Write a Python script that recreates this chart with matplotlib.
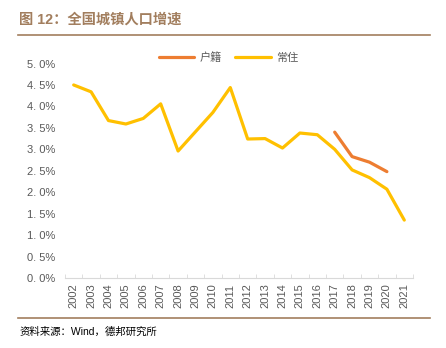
import matplotlib.pyplot as plt
from matplotlib.ticker import FixedLocator, FuncFormatter

plt.rcParams['font.family'] = ['Liberation Sans', 'Noto Sans CJK SC', 'DejaVu Sans']

# === Data: urban population growth, % ===
years = [str(y) for y in range(2002, 2022)]
resident = [4.50, 4.34, 3.67, 3.59, 3.72, 4.06, 2.96, 3.41, 3.86, 4.44,
            3.24, 3.25, 3.03, 3.38, 3.34, 3.00, 2.52, 2.34, 2.07, 1.35]
hukou_years = ['2017', '2018', '2019', '2020']
hukou = [3.40, 2.83, 2.70, 2.48]

yticks = [0.0, 0.5, 1.0, 1.5, 2.0, 2.5, 3.0, 3.5, 4.0, 4.5, 5.0]

brown = '#a27e5e'
orange = '#ed7d31'
yellow = '#ffc000'
grey = '#595959'

fig = plt.figure(figsize=(4.46, 3.48), dpi=100)
ax = fig.add_axes([0.1457, 0.2011, 0.7803, 0.6164])

x_res = list(range(len(years)))
x_hk = [years.index(y) for y in hukou_years]
ax.plot(x_hk, hukou, color=orange, lw=2.3, label='户籍', solid_capstyle='round')
ax.plot(x_res, resident, color=yellow, lw=2.3, label='常住', solid_capstyle='round')

ax.set_xlim(-0.5, len(years) - 0.5)
ax.set_ylim(0, 5.0)
ax.set_yticks(yticks)
ax.yaxis.set_major_formatter(FuncFormatter(lambda v, p: f'{v:.1f}%'.replace('.', '. ')))
ax.set_xticks(x_res)
ax.set_xticklabels(years, rotation=90)
ax.xaxis.set_minor_locator(FixedLocator([i - 0.5 for i in range(len(years) + 1)]))

for s in ['top', 'right', 'left']:
    ax.spines[s].set_visible(False)
ax.spines['bottom'].set_color('#d9d9d9')
ax.tick_params(axis='y', length=0, labelsize=8, labelcolor=grey, pad=7)
ax.tick_params(axis='x', which='major', length=0, labelsize=8, labelcolor=grey, pad=4)
ax.tick_params(axis='x', which='minor', length=3, color='#d9d9d9', direction='in')

leg = ax.legend(loc='upper center', bbox_to_anchor=(0.47, 1.10), ncol=2, frameon=False,
                fontsize=8, handlelength=3.2, columnspacing=1.2, handletextpad=0.5)
for t in leg.get_texts():
    t.set_color(grey)

# === Header / footer ===
fig.text(0.043, 0.943, '图 12：全国城镇人口增速', fontsize=10.3, fontweight='bold',
         color=brown, va='center', ha='left')
fig.add_artist(plt.Line2D([0.04, 0.965], [0.899, 0.899], color=brown, lw=1.2))
fig.add_artist(plt.Line2D([0.04, 0.965], [0.086, 0.086], color=brown, lw=1.2))
fig.text(0.043, 0.046, '资料来源：Wind，德邦研究所', fontsize=7.5, color='black',
         va='center', ha='left')

fig.savefig('out.png', dpi=100)
